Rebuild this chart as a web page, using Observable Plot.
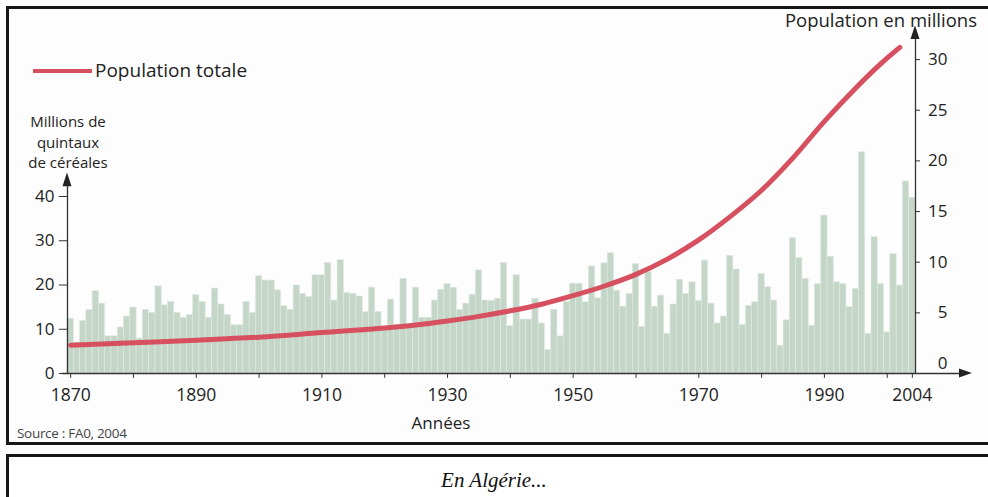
<!DOCTYPE html>
<html>
<head>
<meta charset="utf-8">
<script src="https://cdn.jsdelivr.net/npm/d3@7"></script>
<script src="https://cdn.jsdelivr.net/npm/@observablehq/plot@0.6"></script>
<style>
  html, body { margin: 0; padding: 0; background: #fff; }
  body { font-family: "Open Sans", "Noto Sans", sans-serif; color: #222; }
  #wrap { position: relative; width: 988px; height: 497px; overflow: hidden; background: #fdfdfd; }
  #chart { position: absolute; left: 0; top: 0; }
  .box { position: absolute; left: 6px; width: 985px; border: 3px solid #161616; box-sizing: border-box; pointer-events: none; }
  #frame { top: 6px; height: 439px; }
  #capbox { top: 454px; height: 46px; background: #fff; }
  .lbl { position: absolute; white-space: nowrap; font-size: 18.5px; line-height: 22px; color: #222; }
  #legline { position: absolute; left: 33px; top: 69px; width: 59px; height: 4px; background: #d6505f; }
  #caption { position: absolute; left: 0; width: 988px; top: 467px; text-align: center;
             font-family: "Liberation Serif", "DejaVu Serif", serif; font-style: italic; font-size: 21px; line-height: 26px; color: #111; }
  .ylab { position: absolute; left: 8px; width: 120px; text-align: center; font-size: 15px; line-height: 20.5px; height: 20.5px; white-space: nowrap; color: #222; }
</style>
</head>
<body>
<div id="wrap">
  <div id="chart"></div>
  <div class="box" id="frame"></div>
  <div class="box" id="capbox"></div>
  <div id="legline"></div>
  <div class="lbl" style="left:95px; top:59px; font-size:19px;">Population totale</div>
  <div class="ylab" style="top:111px;">Millions de</div>
  <div class="ylab" style="top:131.5px;">quintaux</div>
  <div class="ylab" style="top:152px;">de céréales</div>
  <div class="lbl" style="right:11px; top:9px; text-align:right;">Population en millions</div>
  <div class="lbl" style="left:391px; width:100px; top:412px; text-align:center; font-size:17px;">Années</div>
  <div class="lbl" style="left:17px; top:424px; font-size:13.5px; line-height:18px; color:#444; letter-spacing:-0.3px;">Source : FA0, 2004</div>
  <div id="caption">En Algérie...</div>
</div>
<script>
// ---- Data ----
const years = d3.range(1870, 2005);
const cereals = [
  12.4, 7, 11.9, 14.3, 18.6, 15.8, 8.4, 8.4, 10.4, 12.9,
  14.9, 7.9, 14.4, 13.7, 19.7, 15.4, 16.2, 13.7, 12.6, 13.2,
  17.7, 16.2, 12.6, 19.2, 15.6, 13.2, 10.9, 10.9, 16.2, 13.7,
  22, 21, 21, 18.8, 15.2, 14.4, 19.9, 18, 17.3, 22.2,
  22.2, 25, 16.5, 25.6, 18.2, 18, 17.4, 13.9, 19.4, 13.9,
  10.5, 16.7, 10.9, 21.4, 10.5, 19.4, 12.6, 12.6, 16.5, 18.9,
  20.2, 19.4, 14.4, 15.8, 17.8, 23.3, 16.5, 16.4, 16.9, 25,
  10.7, 22.2, 12.2, 12.2, 16.9, 11.3, 5.3, 14.4, 8.4, 16.2,
  20.3, 20.3, 16.1, 24.2, 17, 24.9, 27.2, 18.7, 15.1, 18,
  24.7, 10.5, 22.9, 15.1, 17.6, 9, 15.6, 21.2, 18, 20.6,
  16.4, 25.5, 15.8, 11.3, 12.9, 26.6, 23.5, 11, 15.3, 16.1,
  22.5, 19.5, 16.5, 6.3, 12, 30.6, 26.1, 21.4, 10.8, 20.2,
  35.7, 26.4, 20.6, 20.2, 15, 19.1, 50, 9, 30.8, 20.2,
  9.3, 27, 19.9, 43.4, 39.7
];
const popYears  = [1870, 1880, 1890, 1900, 1910, 1920, 1925, 1930, 1935, 1940, 1945, 1950, 1955, 1960, 1965, 1970, 1975, 1980, 1985, 1990, 1995, 1999, 2002];
const popValues = [1.8, 2.05, 2.3, 2.6, 3.05, 3.5, 3.8, 4.2, 4.65, 5.2, 5.85, 6.7, 7.65, 8.8, 10.3, 12.2, 14.5, 17.1, 20.3, 23.9, 27.2, 29.6, 31.2];
const leftTicks  = [0, 10, 20, 30, 40];
const rightTicks = [0, 5, 10, 15, 20, 25, 30];
const yearLabels = [1870, 1890, 1910, 1930, 1950, 1970, 1990, 2004];
const yearTicks  = [1870, 1880, 1890, 1900, 1910, 1920, 1930, 1940, 1950, 1960, 1970, 1980, 1990, 2000, 2004];

// ---- Tables built from the arrays ----
const barData = years.map((year, i) => ({year, value: cereals[i]}));
const popData = popYears.map((year, i) => ({year, pop: popValues[i]}));

// right axis (population) mapped onto the left scale (its zero sits slightly above the baseline)
const popToV = p => (10 + 10.13 * p) / 4.425;

const axisColor = "#333";
const plot = Plot.plot({
  width: 988, height: 445,
  marginLeft: 67, marginRight: 73, marginTop: 19, marginBottom: 72,
  x: {domain: [1869.5, 2004.5], axis: null},
  y: {domain: [0, 80], axis: null},
  style: {fontFamily: "'Open Sans', 'Noto Sans', sans-serif", fontSize: "17px", color: "#222", background: "transparent", overflow: "visible"},
  marks: [
    Plot.rectY(barData, {x1: d => d.year - 0.5, x2: d => d.year + 0.5, y: "value", fill: "#c4d6c8", stroke: "#e0e9e1", strokeWidth: 0.6}),
    // axes lines
    Plot.ruleY([0], {x1: 1868.7, x2: 2011.5, stroke: axisColor, strokeWidth: 1.3}),
    Plot.ruleX([1869.5], {y1: 0, y2: 43.5, stroke: axisColor, strokeWidth: 1.3}),
    Plot.ruleX([2004.5], {y1: 0, y2: 76.5, stroke: axisColor, strokeWidth: 1.3}),
    // left ticks + labels
    Plot.ruleY(leftTicks, {y: d => d, x1: 1868.2, x2: 1869.5, stroke: axisColor, strokeWidth: 1}),
    Plot.text(leftTicks, {x: 1869.5, y: d => d, text: d => String(d), dx: -13, textAnchor: "end", fontSize: 17}),
    // right ticks + labels
    Plot.ruleY(rightTicks.filter(d => d > 0), {y: d => popToV(d), x1: 2004.5, x2: 2005.3, stroke: axisColor, strokeWidth: 1}),
    Plot.text(rightTicks, {x: 2004.5, y: d => popToV(d), text: d => String(d), dx: 32, textAnchor: "end", fontSize: 17}),
    // x ticks + labels
    Plot.ruleX(yearTicks, {x: d => d, y1: 0, y2: -1.1, stroke: axisColor, strokeWidth: 1}),
    Plot.text(yearLabels, {x: d => d, y: 0, text: d => String(d), dy: 22, fontSize: 17.5}),
    // population line
    Plot.line(popData, {x: "year", y: d => popToV(d.pop), stroke: "#d6505f", strokeWidth: 5, curve: "catmull-rom"})
  ]
});
document.getElementById("chart").appendChild(plot);

// arrowheads at the ends of the three axes, placed through the plot's scales
const xs = plot.scale("x"), ys = plot.scale("y");
const X = d3.scaleLinear(xs.domain, xs.range), Y = d3.scaleLinear(ys.domain, ys.range);
const svg = d3.select(plot);
const tri = (pts) => svg.append("path").attr("d", "M" + pts.map(p => p.join(",")).join("L") + "Z").attr("fill", "#222");
const lx = X(1869.5), rx = X(2004.5), by = Y(0);
tri([[lx, Y(45.3)], [lx - 4.5, Y(42.2)], [lx + 4.5, Y(42.2)]]);
tri([[rx, Y(78.6)], [rx - 4.5, Y(75.5)], [rx + 4.5, Y(75.5)]]);
const ax = X(2011.5);
tri([[ax + 13, by], [ax, by - 4.5], [ax, by + 4.5]]);
</script>
</body>
</html>
